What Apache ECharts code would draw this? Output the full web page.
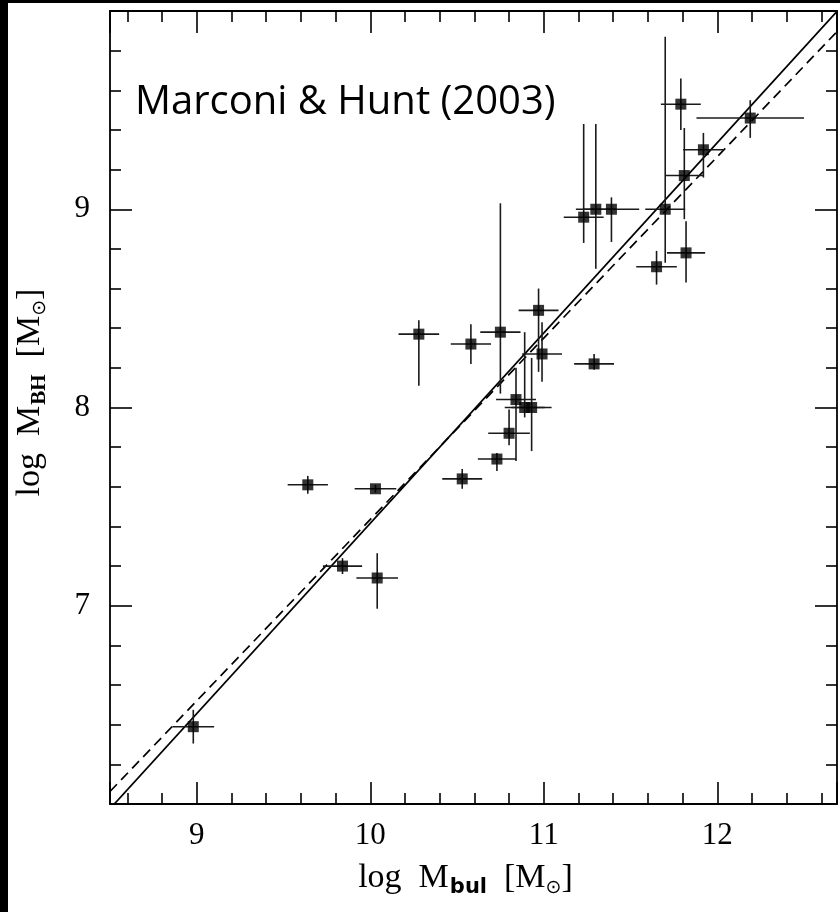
<!DOCTYPE html>
<html>
<head>
<meta charset="utf-8">
<script src="https://cdn.jsdelivr.net/npm/echarts@6/dist/echarts.min.js"></script>
<style>
  html, body { margin: 0; padding: 0; background: #fff; }
  #chart { width: 840px; height: 912px; }
</style>
</head>
<body>
<div id="chart"></div>
<script>
// Bulge mass vs. black-hole mass (log, solar units) with 1-sigma uncertainties
const logMbul = [8.98, 9.64, 9.84, 10.03, 10.04, 10.28, 10.53, 10.58, 10.73, 10.75,
                 10.80, 10.84, 10.89, 10.93, 10.97, 10.99, 11.29, 11.23, 11.30, 11.39,
                 11.65, 11.70, 11.79, 11.81, 11.82, 11.92, 12.19];
const logMbh  = [6.39, 7.61, 7.20, 7.59, 7.14, 8.37, 7.64, 8.32, 7.74, 8.38,
                 7.87, 8.04, 8.00, 8.00, 8.49, 8.27, 8.22, 8.96, 9.00, 9.00,
                 8.71, 9.00, 9.53, 9.17, 8.78, 9.30, 9.46];
const errMbul = [0.12, 0.116, 0.113, 0.12, 0.12, 0.117, 0.115, 0.116, 0.11, 0.116,
                 0.12, 0.115, 0.115, 0.115, 0.115, 0.115, 0.115, 0.115, 0.115, 0.16,
                 0.117, 0.115, 0.115, 0.11, 0.11, 0.117, 0.31];
const errMbhUp   = [0.085, 0.045, 0.04, 0.02, 0.125, 0.07, 0.05, 0.10, 0.03, 0.65,
                    0.12, 0.16, 0.38, 0.25, 0.11, 0.16, 0.05, 0.47, 0.43, 0.06,
                    0.08, 0.87, 0.13, 0.24, 0.16, 0.085, 0.09];
const errMbhDown = [0.085, 0.045, 0.04, 0.02, 0.155, 0.26, 0.05, 0.10, 0.06, 0.31,
                    0.06, 0.31, 0.05, 0.22, 0.31, 0.14, 0.03, 0.13, 0.30, 0.165,
                    0.09, 0.27, 0.13, 0.22, 0.15, 0.14, 0.10];

// Fitted relations (end points across the plotted range)
const fitSolid  = [[8.50, 5.976], [12.69, 9.998]];
const fitDashed = [[8.50, 6.063], [12.69, 9.896]];

// Axis ranges
const xRange = [8.5, 12.69];
const yRange = [6, 10];

const serif = '"Liberation Serif", "DejaVu Serif", serif';
const ink = '#000';

const points = logMbul.map((x, i) => [x, logMbh[i], errMbul[i], errMbhUp[i], errMbhDown[i]]);

function renderErrorBar(params, api) {
  const x = api.value(0), y = api.value(1);
  const ex = api.value(2), up = api.value(3), dn = api.value(4);
  const l = api.coord([x - ex, y]), r = api.coord([x + ex, y]);
  const t = api.coord([x, y + up]), b = api.coord([x, y - dn]);
  const style = { stroke: '#1a1a1a', lineWidth: 1.6 };
  return {
    type: 'group',
    children: [
      { type: 'line', shape: { x1: l[0], y1: l[1], x2: r[0], y2: r[1] }, style: style },
      { type: 'line', shape: { x1: t[0], y1: t[1], x2: b[0], y2: b[1] }, style: style }
    ]
  };
}

const frameLine = { show: true, onZero: false, lineStyle: { color: ink, width: 1.8 } };
const majorTick = { show: true, inside: true, length: 22, lineStyle: { color: ink, width: 1.6 } };
const minorTick = { show: true, splitNumber: 5, length: 11, lineStyle: { color: ink, width: 1.6 } };
const intLabel = v => (Math.abs(v - Math.round(v)) < 1e-6 ? String(Math.round(v)) : '');

const nameRich = {
  t: { fontFamily: serif, fontSize: 34, color: ink, lineHeight: 48 },
  s: { fontFamily: '"DejaVu Sans", sans-serif', fontWeight: 'bold', fontSize: 21, color: ink, lineHeight: 48, padding: [20, 0, 0, 1] },
  b: { fontFamily: serif, fontWeight: 'bold', fontSize: 21, color: ink, lineHeight: 48, padding: [20, 0, 0, 1] },
  o: { fontFamily: '"DejaVu Sans", sans-serif', fontSize: 19, color: ink, lineHeight: 48, padding: [20, 0, 0, 0] }
};

const xBase = {
  type: 'value', min: xRange[0], max: xRange[1], minInterval: 1, maxInterval: 1,
  axisLine: frameLine, axisTick: majorTick, minorTick: minorTick,
  splitLine: { show: false }, minorSplitLine: { show: false }
};
const yBase = {
  type: 'value', min: yRange[0], max: yRange[1], interval: 1,
  axisLine: frameLine, axisTick: majorTick, minorTick: minorTick,
  splitLine: { show: false }, minorSplitLine: { show: false }
};

const chart = echarts.init(document.getElementById('chart'), null, { renderer: 'canvas' });
chart.setOption({
  backgroundColor: '#ffffff',
  animation: false,
  grid: { left: 110, top: 11, width: 729, height: 793, containLabel: false },
  xAxis: [
    Object.assign({}, xBase, {
      position: 'bottom',
      axisLabel: { show: true, formatter: intLabel, fontFamily: serif, fontSize: 31, color: ink, margin: 16 },
      name: '{t|log  M}{s|bul}{t|  [M}{o|\u2299}{t|]}',
      nameLocation: 'middle', nameGap: 50,
      nameTextStyle: { rich: nameRich, padding: [0, 16, 0, 0] }
    }),
    Object.assign({}, xBase, { position: 'top', axisLabel: { show: false } })
  ],
  yAxis: [
    Object.assign({}, yBase, {
      position: 'left',
      axisLabel: { show: true, formatter: intLabel, showMinLabel: false, showMaxLabel: false,
                   fontFamily: serif, fontSize: 31, color: ink, margin: 20 },
      name: '{t|log  M}{b|BH}{t|  [M}{o|\u2299}{t|]}',
      nameLocation: 'middle', nameGap: 56,
      nameTextStyle: { rich: nameRich, padding: [0, 0, 0, 30] }
    }),
    Object.assign({}, yBase, { position: 'right', axisLabel: { show: false } })
  ],
  graphic: [
    { type: 'rect', left: 0, top: 0, shape: { width: 8, height: 912 }, style: { fill: '#000' }, z: 100 },
    { type: 'rect', left: 0, top: 0, shape: { width: 840, height: 3 }, style: { fill: '#000' }, z: 100 },
    { type: 'text', left: 135, top: 83, z: 100,
      style: { text: 'Marconi & Hunt (2003)', font: '40px "Open Sans", sans-serif', fill: ink } }
  ],
  series: [
    {
      type: 'line', data: fitSolid, showSymbol: false, clip: true, silent: true,
      lineStyle: { color: ink, width: 1.7 }, z: 3
    },
    {
      type: 'line', data: fitDashed, showSymbol: false, clip: true, silent: true,
      lineStyle: { color: ink, width: 1.7, type: [10, 6] }, z: 3
    },
    {
      type: 'custom', data: points, renderItem: renderErrorBar, clip: true,
      encode: { x: 0, y: 1 }, z: 4, silent: true
    },
    {
      type: 'scatter', data: points.map(p => [p[0], p[1]]), symbol: 'rect', symbolSize: 11,
      itemStyle: { color: ink }, z: 5, silent: true
    }
  ]
});
</script>
</body>
</html>
